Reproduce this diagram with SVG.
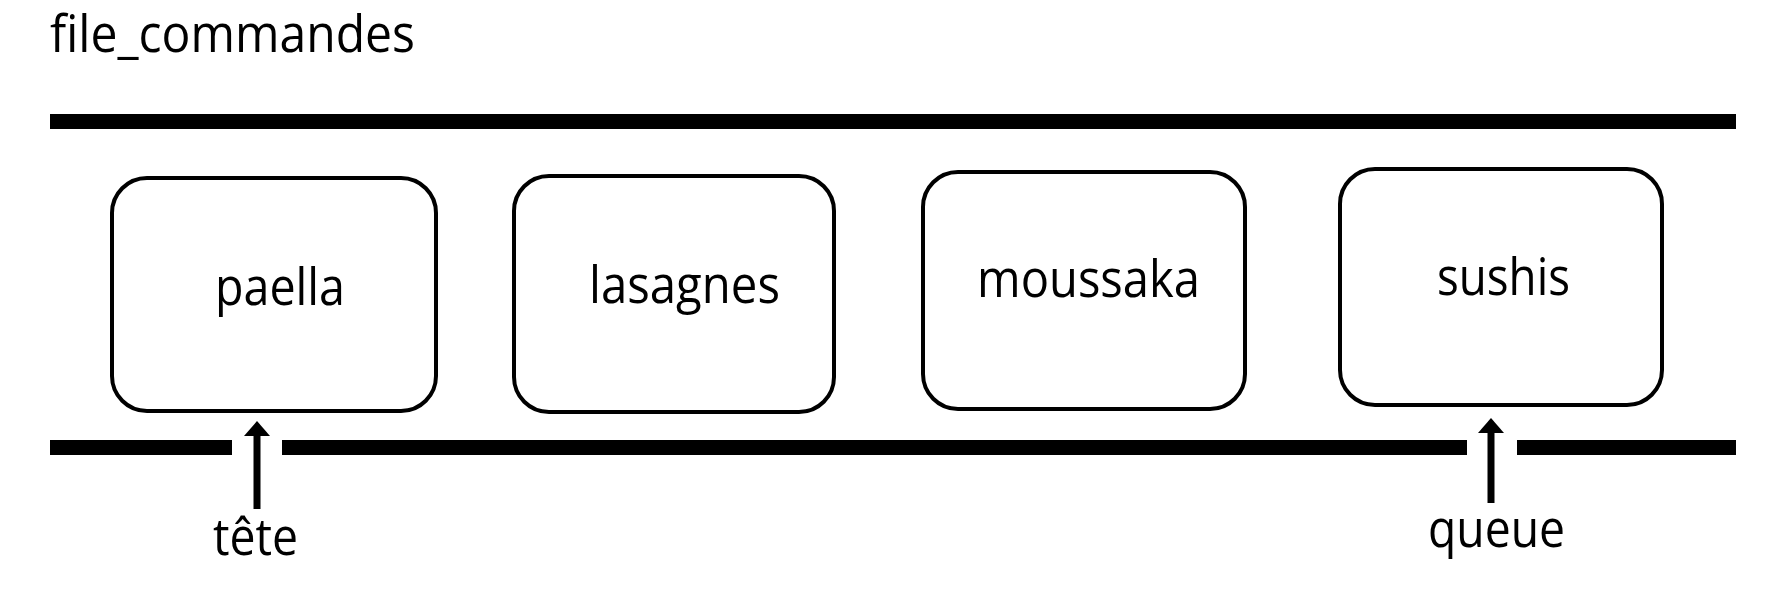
<svg xmlns="http://www.w3.org/2000/svg" width="1771" height="592" viewBox="0 0 1771 592">
<style>
.bar{fill:#000}
.box{fill:#fff;stroke:#000;stroke-width:4}
.lbl{font-family:"Open Sans","Noto Sans",sans-serif;font-size:51px;fill:#000;text-anchor:middle}
.title{font-family:"Open Sans","Noto Sans",sans-serif;font-size:51px;fill:#000}
.shaft{stroke:#000;stroke-width:7;fill:none}
.head{fill:#000}
</style>
<rect width="1771" height="592" fill="#fff"/>
<text class="title" x="50" y="52" textLength="365" lengthAdjust="spacingAndGlyphs">file_commandes</text>
<g id="rails">
<rect class="bar" x="50" y="114" width="1686" height="15"/>
<rect class="bar" x="50" y="440" width="182" height="15"/>
<rect class="bar" x="282" y="440" width="1185" height="15"/>
<rect class="bar" x="1517" y="440" width="219" height="15"/>
</g>
<g id="node-paella">
<rect class="box" x="112" y="178" width="324" height="233" rx="35"/>
<text class="lbl" x="280" y="305" textLength="130" lengthAdjust="spacingAndGlyphs">paella</text>
</g>
<g id="node-lasagnes">
<rect class="box" x="514" y="176" width="320" height="236" rx="35"/>
<text class="lbl" x="684.5" y="303" textLength="191" lengthAdjust="spacingAndGlyphs">lasagnes</text>
</g>
<g id="node-moussaka">
<rect class="box" x="923" y="172" width="322" height="237" rx="35"/>
<text class="lbl" x="1088.5" y="297" textLength="223" lengthAdjust="spacingAndGlyphs">moussaka</text>
</g>
<g id="node-sushis">
<rect class="box" x="1340" y="169" width="322" height="236" rx="35"/>
<text class="lbl" x="1503.5" y="295" textLength="133" lengthAdjust="spacingAndGlyphs">sushis</text>
</g>
<g id="connectors">
<line class="shaft" x1="257" y1="509" x2="257" y2="432"/>
<polygon class="head" points="257,421 244,436 270,436"/>
<line class="shaft" x1="1491" y1="503" x2="1491" y2="429"/>
<polygon class="head" points="1491,418 1478,433 1504,433"/>
</g>
<g id="label-tete">
<text class="lbl" x="255.5" y="555" textLength="85" lengthAdjust="spacingAndGlyphs">tête</text>
</g>
<g id="label-queue">
<text class="lbl" x="1496.5" y="547" textLength="137" lengthAdjust="spacingAndGlyphs">queue</text>
</g>
</svg>
